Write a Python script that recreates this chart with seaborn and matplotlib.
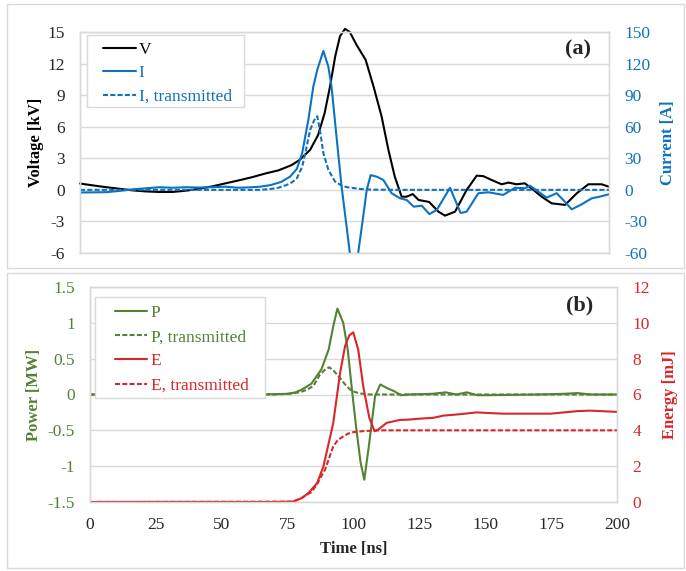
import matplotlib
matplotlib.use("Agg")
import matplotlib.pyplot as plt
from matplotlib.patches import Rectangle
import seaborn as sns
import numpy as np

# ---- panel (a): voltage and current ----
t_v = [0, 5, 10, 15, 20, 25, 30, 35, 40, 45, 50, 55, 60, 65, 70, 75, 80, 83,
       87, 90, 92.5, 94.5, 96.5, 98.3, 100.2, 102, 104.5, 108, 111, 114, 116.6,
       119, 121.6, 123.5, 125.8, 128, 132, 135.5, 138, 141.8, 146.2, 150, 152.5,
       155.6, 159.4, 162, 165, 168.2, 171.4, 174.5, 178.3, 183.4, 187.8, 192.2,
       197.2, 200]
voltage = [0.6, 0.42, 0.25, 0.1, -0.05, -0.15, -0.2, -0.2, -0.08, 0.1, 0.33,
           0.62, 0.9, 1.2, 1.55, 1.85, 2.35, 2.84, 3.8, 5.2, 7.3, 9.8, 12.7,
           14.6, 15.3, 15.0, 13.8, 12.35, 9.8, 7.0, 3.8, 1.26, -0.65, -0.65,
           -0.4, -0.96, -1.15, -2.07, -2.45, -2.07, 0.0, 1.35, 1.3, 0.94, 0.53,
           0.69, 0.53, 0.62, 0.0, -0.64, -1.28, -1.43, -0.33, 0.53, 0.53, 0.3]

t_i = [0, 10, 15, 20, 25, 30, 35, 40, 45, 50, 55, 60, 65, 68, 72, 76, 79.4,
       82, 84, 86.3, 88.2, 89.7, 92, 93.9, 95.1, 97, 98.9, 100.8, 103.5, 106.9,
       108.4, 109.9, 112.2, 114.7, 117.8, 121, 123.5, 126.2, 129.2, 132.1,
       134.9, 139.9, 143.9, 146.2, 150.6, 154.4, 160, 164.5, 168.2, 170.1,
       173.3, 176.4, 180.2, 182.7, 185.9, 189.7, 193.5, 196.6, 200]
current = [-2.5, -2.2, -1.0, 0.5, 1.5, 2.5, 2.0, 2.5, 2.2, 2.5, 3.0, 2.0, 2.5,
           3.0, 4.5, 7.5, 12.5, 20, 35, 66, 98, 114, 132, 117, 98, 50, 3, -35,
           -90, -28.6, 0, 14, 12.5, 9.4, -3.2, -8, -9.6, -16, -15, -23, -19, 2,
           -22, -20.7, -3.2, -2.3, -4.8, 2, 1.5, 4, -1.7, -7.4, -3.2, -9.6,
           -18.5, -13.7, -8, -6.4, -4.2]

t_it = [0, 20, 40, 60, 68, 72, 75, 78, 80, 82, 84, 85.7, 87, 88.5, 89.7, 90.7,
        92, 93.9, 96.4, 98.9, 101, 103, 106, 110, 120, 200]
current_tr = [0, 0, 0, 0, 0, 0.8, 2, 4.5, 7, 11, 22, 41, 57, 66, 70, 57, 35,
              19, 8, 4, 2.5, 1.8, 0.8, 0.2, 0, 0]

# ---- panel (b): power and energy ----
t_p = [0, 60, 70, 75, 78, 80.4, 84, 87.8, 90.6, 92.3, 93.9, 96.1, 97.8, 99.4,
       101.1, 102.7, 104.1, 106, 108.2, 110.2, 112.7, 115.2, 118.1, 121, 130,
       135, 139, 143, 147, 150, 170, 180, 185, 190, 200]
power = [0, 0, 0.005, 0.01, 0.03, 0.07, 0.15, 0.35, 0.63, 0.95, 1.2, 1.0,
         0.63, 0.07, -0.49, -0.95, -1.19, -0.67, -0.02, 0.14, 0.09, 0.05,
         -0.01, 0, 0.01, 0.03, 0.0, 0.03, -0.01, -0.01, 0, 0.01, 0.02, 0, 0]

t_pt = [0, 70, 76, 80, 82.5, 84.8, 87.3, 89, 90.8, 92.5, 94.9, 96.8, 98.7,
        100.5, 102.5, 106, 200]
power_tr = [0, 0, 0.01, 0.035, 0.07, 0.12, 0.28, 0.34, 0.38, 0.33, 0.23, 0.14,
            0.07, 0.035, 0.015, 0, 0]

t_e = [0, 70, 77, 80.4, 82.9, 86.2, 88.6, 90.6, 92.3, 94.9, 96.8, 98.4, 99.9,
       101.8, 103.7, 106, 108, 109.4, 112.6, 117.6, 121, 125.1, 130.3, 134.1,
       140.4, 146.6, 156.6, 174.8, 184.8, 189.7, 200]
energy = [0, 0, 0.02, 0.22, 0.5, 1.06, 1.99, 3.29, 4.4, 7.2, 8.7, 9.3, 9.47,
          8.5, 6.45, 4.7, 3.95, 4.04, 4.42, 4.58, 4.6, 4.65, 4.7, 4.82, 4.9,
          5.0, 4.93, 4.93, 5.07, 5.1, 5.03]

t_et = [0, 77, 80, 84, 86, 88, 89.2, 92.3, 94, 96.1, 98, 100, 104, 110, 200]
energy_tr = [0, 0.02, 0.2, 0.55, 0.95, 1.5, 1.8, 3.1, 3.45, 3.66, 3.82, 3.9,
             3.96, 4.0, 4.0]

BLACK = "#000000"
BLUE = "#0E72C1"
GREEN = "#548235"
RED = "#D9262B"
GRID = "#D9D9D9"
DASH = (0, (2.4, 1.1))
LW = 1.5
FS = 12.5

sns.set_theme(style="white")
plt.rcParams["font.family"] = ["Liberation Serif", "DejaVu Serif"]
plt.rcParams["font.size"] = FS
plt.rcParams["axes.unicode_minus"] = False

fig = plt.figure(figsize=(6.86, 5.71), dpi=100)
W, H = 686, 571


def px_axes(l, r, t, b):
    return fig.add_axes([l / W, 1 - b / H, (r - l) / W, (b - t) / H])


def style_axes(ax):
    for s in ax.spines.values():
        s.set_color(GRID)
        s.set_linewidth(1)
    ax.tick_params(length=0, pad=11, labelsize=FS)


def line(ax, x, y, color, ls="-", label=None, clip=True):
    sns.lineplot(x=x, y=y, ax=ax, color=color, linestyle=ls, linewidth=LW,
                 estimator=None, sort=False, label=label, clip_on=clip)


def legend_box(ax, x0, y0, x1, y1):
    r = Rectangle((x0, y0), x1 - x0, y1 - y0, transform=ax.transAxes,
                  facecolor="white", edgecolor=GRID, linewidth=1, zorder=4)
    ax.add_patch(r)


# panel frames
for top, bot in [(4, 268), (272.7, 568)]:
    fig.add_artist(Rectangle((6.5 / W, 1 - bot / H), (684 - 6.5) / W,
                             (bot - top) / H, transform=fig.transFigure,
                             fill=False, edgecolor=GRID, linewidth=1))

# ---------------- panel (a) ----------------
axa = px_axes(80, 609, 32, 253)
axa2 = axa.twinx()
style_axes(axa)
style_axes(axa2)
axa.set_xlim(0, 200)
axa.set_ylim(-6, 15)
axa.set_yticks(np.arange(-6, 16, 3))
axa.yaxis.grid(True, color=GRID, linewidth=1)
axa.set_xticks([])
axa2.set_ylim(-60, 150)
axa2.set_yticks(np.arange(-60, 151, 30))
axa2.tick_params(axis="y", colors=BLUE)

line(axa, t_v, voltage, BLACK, label="V", clip=False)
line(axa2, t_i, current, BLUE, label="I")
line(axa2, t_it, current_tr, BLUE, DASH, label="I, transmitted")

axa.set_xlabel("")
axa.set_ylabel("Voltage [kV]", fontweight="bold", fontsize=12, color=BLACK)
axa.yaxis.set_label_coords(-0.068, 0.5)
axa2.set_ylabel("Current [A]", fontweight="bold", fontsize=12, color=BLUE,
                rotation=90)
axa2.yaxis.set_label_coords(1.0965, 0.5)

for a in (axa, axa2):
    if a.get_legend():
        a.get_legend().remove()
ha, la = axa.get_legend_handles_labels()
hb, lb = axa2.get_legend_handles_labels()
legend_box(axa2, 0.0138, 0.662, 0.3107, 0.9864)
lga = axa2.legend(ha + hb, la + lb, loc="upper left",
                  bbox_to_anchor=((94 - 80) / 529, (253 - 33) / 221),
                  frameon=False, borderpad=0, handlelength=1.9,
                  handletextpad=0.17, labelspacing=0.42, fontsize=FS,
                  labelcolor=[BLACK, BLUE, BLUE])
lga.set_zorder(5)
axa2.text(0.941, 0.923, "(a)", transform=axa2.transAxes, ha="center",
          va="center", fontsize=16, fontweight="bold")

# ---------------- panel (b) ----------------
axb = px_axes(90, 617, 287, 502)
axb2 = axb.twinx()
style_axes(axb)
style_axes(axb2)
axb.set_xlim(0, 200)
axb.set_xticks(np.arange(0, 201, 25))
axb.set_ylim(-1.5, 1.5)
axb.set_yticks(np.arange(-1.5, 1.51, 0.5))
axb.set_yticklabels(["-1.5", "-1", "-0.5", "0", "0.5", "1", "1.5"])
axb.yaxis.grid(True, color=GRID, linewidth=1)
axb.tick_params(axis="y", colors=GREEN)
axb2.set_ylim(0, 12)
axb2.set_yticks(np.arange(0, 13, 2))
axb2.tick_params(axis="y", colors=RED)

line(axb, t_p, power, GREEN, label="P")
line(axb, t_pt, power_tr, GREEN, DASH, label="P, transmitted")
line(axb2, t_e, energy, RED, label="E")
line(axb2, t_et, energy_tr, RED, DASH, label="E, transmitted")

axb.set_xlabel("Time [ns]", fontweight="bold", fontsize=12)
axb.xaxis.set_label_coords(0.5, -0.18)
axb.set_ylabel("Power [MW]", fontweight="bold", fontsize=12, color=GREEN)
axb.yaxis.set_label_coords(-0.091, 0.5)
axb2.set_ylabel("Energy [mJ]", fontweight="bold", fontsize=12, color=RED)
axb2.yaxis.set_label_coords(1.085, 0.5)

for a in (axb, axb2):
    if a.get_legend():
        a.get_legend().remove()
ha, la = axb.get_legend_handles_labels()
hb, lb = axb2.get_legend_handles_labels()
legend_box(axb2, 0.0102, 0.485, 0.3315, 0.955)
lgb = axb2.legend(ha + hb, la + lb, loc="upper left",
                  bbox_to_anchor=((106 - 90) / 527, (502 - 296) / 215),
                  frameon=False, borderpad=0, handlelength=1.85,
                  handletextpad=0.23, labelspacing=0.47, fontsize=FS,
                  labelcolor=[GREEN, GREEN, RED, RED])
lgb.set_zorder(5)
axb2.text(0.93, 0.916, "(b)", transform=axb2.transAxes, ha="center",
          va="center", fontsize=16, fontweight="bold")

fig.savefig("out.png", dpi=100)
